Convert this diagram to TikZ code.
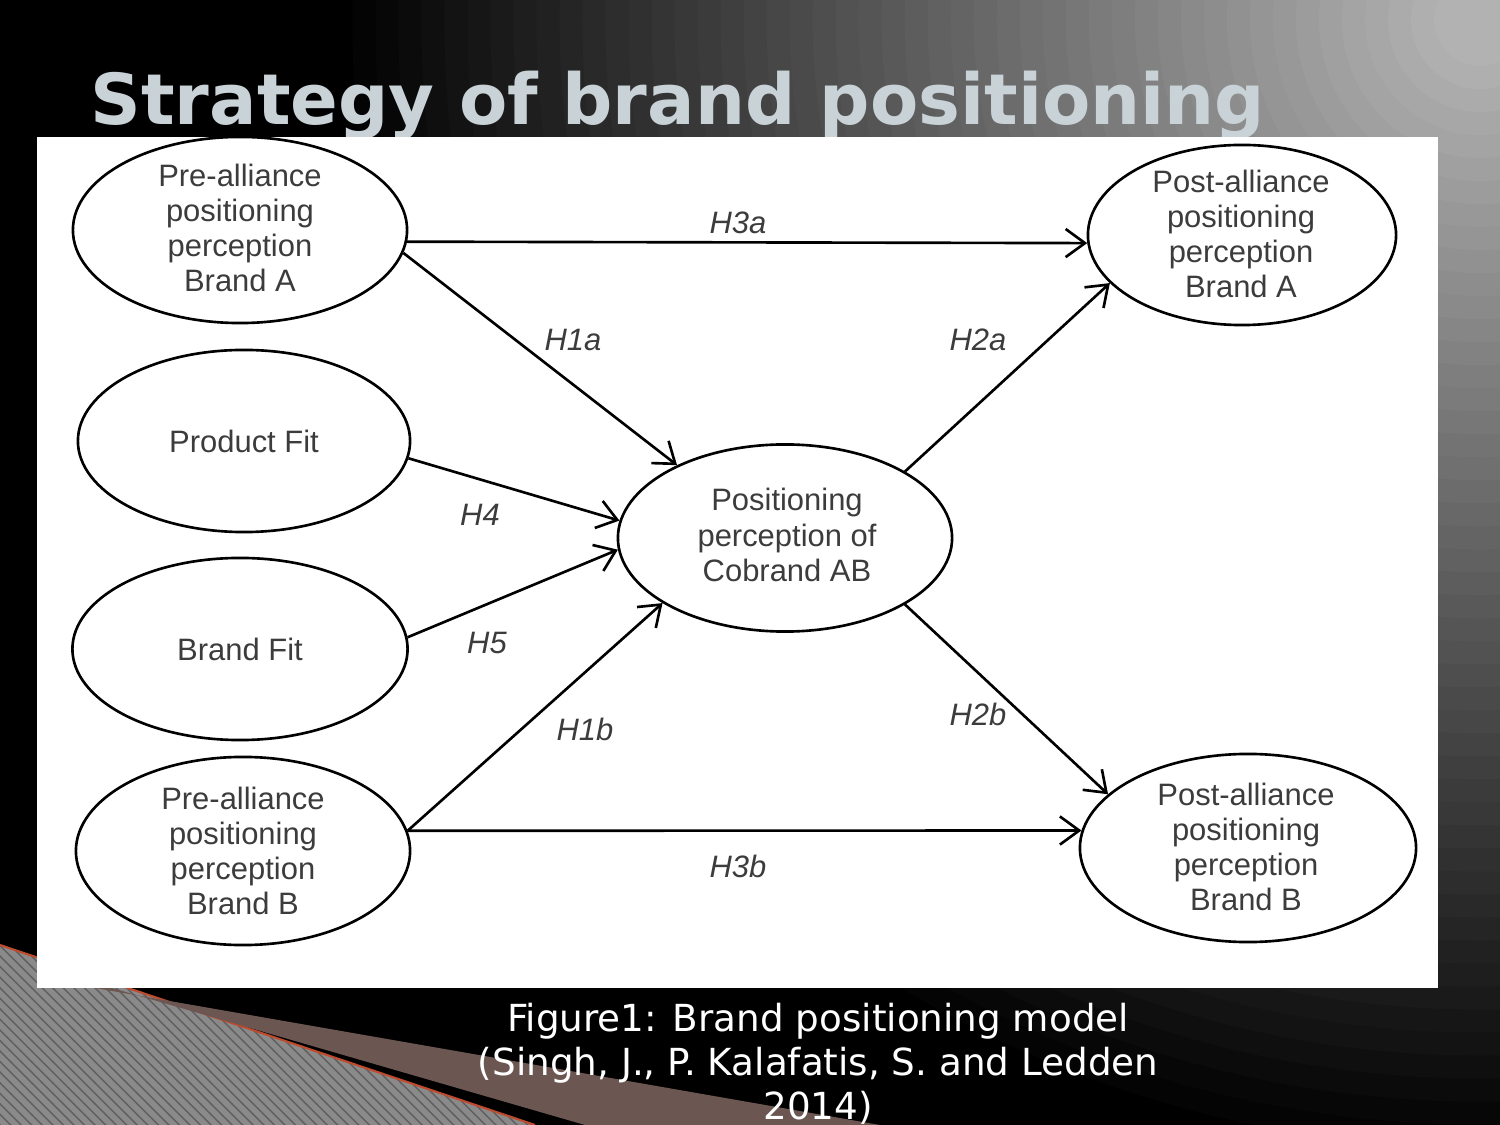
\documentclass[tikz,border=0pt]{standalone}
\usepackage{fontspec}
\usetikzlibrary{shapes.geometric,arrows.meta,patterns}
\newfontfamily\arialf{Liberation Sans}
\newfontfamily\dejaf{DejaVu Sans}
\definecolor{titlec}{RGB}{200,210,215}
\definecolor{txtc}{RGB}{60,60,60}
\definecolor{brownc}{RGB}{108,86,82}
\definecolor{stripc}{RGB}{138,138,138}
\definecolor{stripd}{RGB}{95,95,95}
\definecolor{redc}{RGB}{190,75,45}
\definecolor{glowin}{gray}{0.70}
\begin{document}
\begin{tikzpicture}[x=0.01cm,y=-0.01cm,
  ell/.style 2 args={draw=black, line width=0.75pt, ellipse, fill=white,
    minimum width=#1, minimum height=#2, inner sep=0pt},
  etxt/.style={align=center, text=txtc, inner sep=0pt,
    font=\arialf\fontsize{8.8}{10}\selectfont},
  hlbl/.style={text=txtc, inner sep=0pt,
    font=\arialf\itshape\fontsize{8.8}{10}\selectfont},
  arr/.style={draw=black, line width=0.75pt,
    -{Straight Barb[length=5.5pt,width=8pt,line width=0.75pt]}}]
% page frame
\useasboundingbox (0,0) rectangle (1500,1125);
\clip (0,0) rectangle (1500,1125);
% background: black with a grey glow from the top right corner
\fill[black] (0,0) rectangle (1500,1125);
\foreach \i in {0,...,48}{
  \pgfmathsetmacro\rr{11.5*(1-\i/50)}
  \pgfmathsetmacro\pp{100*\i/48}
  \fill[glowin!\pp!black] (1480,20) circle[radius=\rr cm];
}
% bottom-left decoration
\fill[stripc] (0,945) -- (535,1125) -- (0,1125) -- cycle;
\fill[pattern=north west lines, pattern color=stripd] (0,945) -- (535,1125) -- (0,1125) -- cycle;
\draw[redc, line width=0.6pt] (0,945) -- (535,1125);
\fill[brownc] (95,988) -- (880,1125) -- (585,1125) -- (112,988) -- cycle;
% title
\node[anchor=base west, inner sep=0pt, text=titlec,
  font=\dejaf\bfseries\fontsize{20}{24}\selectfont] (title) at (90,125)
  {Strategy of brand positioning};
% white panel
\fill[white] (37,137) rectangle (1438,988);
% ellipses
\node[ell={3.34cm}{1.86cm}] (preA)  at (240,230) {};
\node[ell={3.32cm}{1.82cm}] (pfit)  at (244,441) {};
\node[ell={3.35cm}{1.82cm}] (bfit)  at (240,649) {};
\node[ell={3.34cm}{1.88cm}] (preB)  at (243,851) {};
\node[ell={3.34cm}{1.87cm}] (cob)   at (785,538) {};
\node[ell={3.08cm}{1.80cm}] (postA) at (1242,235) {};
\node[ell={3.36cm}{1.88cm}] (postB) at (1248,848) {};
% ellipse texts
\node[etxt] (preAt)  at (240,228) {Pre-alliance\\positioning\\perception\\Brand A};
\node[etxt] (pfitt)  at (244,441) {Product Fit};
\node[etxt] (bfitt)  at (240,649) {Brand Fit};
\node[etxt] (preBt)  at (243,851) {Pre-alliance\\positioning\\perception\\Brand B};
\node[etxt] (cobt)   at (787,535) {Positioning\\perception of\\Cobrand AB};
\node[etxt] (postAt) at (1241,234) {Post-alliance\\positioning\\perception\\Brand A};
\node[etxt] (postBt) at (1246,847) {Post-alliance\\positioning\\perception\\Brand B};
% connectors
\draw[arr] (preA.-4.5) -- (postA.183.8);
\draw[arr] (preA.-8)  -- (cob.146);
\draw[arr] (cob.29)   -- (postA.200);
\draw[arr] (pfit.-6)  -- (cob.174);
\draw[arr] (bfit.4)   -- (cob.184);
\draw[arr] (preB.7)   -- (cob.208);
\draw[arr] (cob.-29)  -- (postB.159);
\draw[arr] (preB.7)   -- (postB.174);
% connector labels
\node[hlbl] (l3a) at (738,223) {H3a};
\node[hlbl] (l1a) at (573,340) {H1a};
\node[hlbl] (l2a) at (978,340) {H2a};
\node[hlbl] (l4)  at (480,515) {H4};
\node[hlbl] (l5)  at (487,643) {H5};
\node[hlbl] (l1b) at (585,729) {H1b};
\node[hlbl] (l2b) at (978,714) {H2b};
\node[hlbl] (l3b) at (738,866) {H3b};
% caption
\node[align=center, text=white, inner sep=0pt,
  font=\dejaf\fontsize{10.6}{12.5}\selectfont] (cap) at (818,1064)
  {Figure1: Brand positioning model\\(Singh, J., P. Kalafatis, S. and Ledden\\2014)};
\end{tikzpicture}
\end{document}
